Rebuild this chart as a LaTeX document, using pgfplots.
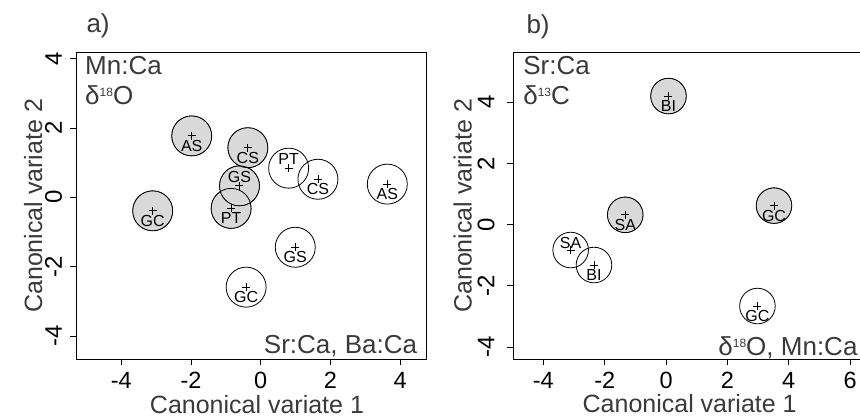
\documentclass[border=0pt]{standalone}
\usepackage{fontspec}
\setmainfont{Liberation Sans}
\usepackage{pgfplots}
\pgfplotsset{compat=1.18}
\usepackage{pgfplotstable}
\definecolor{fillg}{HTML}{D9D9D9}
\definecolor{txt}{HTML}{3A3A3A}
\newcommand{\tx}{\fontsize{23.5}{23.5}\selectfont}
\newcommand{\ty}{\fontsize{24}{24}\selectfont}
\newcommand{\supr}[1]{{\fontsize{12}{12}\selectfont\raisebox{8.5pt}{#1}}}

% panel a
\pgfplotstableread{
x y lab
-1.98 1.77 AS
-0.37 1.43 CS
-0.85 -0.32 PT
-3.10 -0.39 GC
}\aFB
\pgfplotstableread{
x y lab
-0.61 0.33 GS
}\aFA
\pgfplotstableread{
x y lab
1.64 0.52 CS
3.63 0.38 AS
0.99 -1.44 GS
-0.42 -2.59 GC
}\aOB
\pgfplotstableread{
x y lab
0.80 0.84 PT
}\aOA
% panel b
\pgfplotstableread{
x y lab
0.08 4.20 BI
-1.33 0.32 SA
3.52 0.62 GC
}\bFB
\pgfplotstableread{
x y lab
-2.35 -1.32 BI
2.98 -2.66 GC
}\bOB
\pgfplotstableread{
x y lab
-3.11 -0.83 SA
}\bOA

\pgfplotsset{
  canon/.style={
    scale only axis, clip=false,
    axis line style={black, line width=0.8pt},
    tick style={black, line width=0.8pt},
    tick align=outside, major tick length=6pt,
    xtick pos=bottom, ytick pos=left,
    tick label style={font=\fontsize{23.5}{23.5}\selectfont},
    xticklabel style={anchor=base, inner sep=0pt},
    yticklabel style={rotate=90, anchor=base, inner sep=0pt},
    label style={font=\fontsize{25}{25}\selectfont, text=txt, inner sep=0pt},
    xlabel={Canonical variate 1}, ylabel={Canonical variate 2},
    ytick={-4,-2,0,2,4}, yticklabels={\ty -4,\ty -2,\ty 0,\ty 2,\ty 4},
  },
  fillc/.style={only marks, mark=*, mark size=#1, mark options={draw=none, fill=fillg}},
  openc/.style={only marks, mark=o, mark size=#1, mark options={draw=black, line width=0.8pt}},
  plusm/.style={only marks, mark=+, mark size=4pt, mark options={draw=black, line width=0.8pt}},
  lab/.style={only marks, mark=none, nodes near coords, point meta=explicit symbolic,
    every node near coord/.style={anchor=center, yshift=#1, inner sep=0pt, font=\fontsize{16}{16}\selectfont, text=black}},
}

\begin{document}
\begin{tikzpicture}
\begin{axis}[canon,
  at={(76pt,58.7pt)}, anchor=south west, width=350pt, height=307pt,
  xmin=-5.30, xmax=4.74, ymin=-4.67, ymax=4.18,
  xtick={-4,-2,0,2,4}, xticklabels={\tx -4,\tx -2,\tx 0,\tx 2,\tx 4},
  xticklabel style={yshift=-23pt},
  yticklabel style={yshift=8pt},
  xlabel style={at={(axis description cs:0.5,-0.176)}, anchor=base, xshift=6pt},
  ylabel style={at={(axis description cs:-0.097,0.5)}, anchor=base},
]
\addplot[fillc=20pt] table[x=x,y=y] {\aFB};
\addplot[fillc=20pt] table[x=x,y=y] {\aFA};
\addplot[openc=20pt] table[x=x,y=y] {\aFB};
\addplot[openc=20pt] table[x=x,y=y] {\aFA};
\addplot[openc=20pt] table[x=x,y=y] {\aOB};
\addplot[openc=20pt] table[x=x,y=y] {\aOA};
\addplot[plusm] table[x=x,y=y] {\aFB};
\addplot[plusm] table[x=x,y=y] {\aFA};
\addplot[plusm] table[x=x,y=y] {\aOB};
\addplot[plusm] table[x=x,y=y] {\aOA};
\addplot[lab=-10pt] table[x=x,y=y,meta=lab] {\aFB};
\addplot[lab=-10pt] table[x=x,y=y,meta=lab] {\aOB};
\addplot[lab=9pt] table[x=x,y=y,meta=lab] {\aFA};
\addplot[lab=9pt] table[x=x,y=y,meta=lab] {\aOA};
\node[anchor=base west, xshift=5.7pt, yshift=-22.7pt, text=txt, font=\fontsize{26}{26}\selectfont] at (rel axis cs:0,1) {Mn:Ca};
\node[anchor=base west, xshift=5.7pt, yshift=-52.7pt, text=txt, font=\fontsize{26}{26}\selectfont] at (rel axis cs:0,1) {δ\supr{18}O};
\node[anchor=base east, xshift=-5.3pt, yshift=6pt, text=txt, font=\fontsize{26}{26}\selectfont] at (rel axis cs:1,0) {Sr:Ca, Ba:Ca};
\node[anchor=base west, xshift=7pt, yshift=19.3pt, text=txt, font=\fontsize{26}{26}\selectfont] at (rel axis cs:0,1) {a)};
\end{axis}

\begin{axis}[canon,
  at={(513.3pt,58.7pt)}, anchor=south west, width=352.7pt, height=307pt,
  xmin=-4.98, xmax=6.52, ymin=-4.40, ymax=5.63,
  xtick={-4,-2,0,2,4,6}, xticklabels={\tx -4,\tx -2,\tx 0,\tx 2,\tx 4,\tx 6},
  xticklabel style={yshift=-23.5pt},
  yticklabel style={yshift=13pt},
  xlabel style={at={(axis description cs:0.5,-0.172)}, anchor=base},
  ylabel style={at={(axis description cs:-0.118,0.5)}, anchor=base},
]
\addplot[fillc=17.8pt] table[x=x,y=y] {\bFB};
\addplot[openc=17.8pt] table[x=x,y=y] {\bFB};
\addplot[openc=17.8pt] table[x=x,y=y] {\bOB};
\addplot[openc=17.8pt] table[x=x,y=y] {\bOA};
\addplot[plusm] table[x=x,y=y] {\bFB};
\addplot[plusm] table[x=x,y=y] {\bOB};
\addplot[plusm] table[x=x,y=y] {\bOA};
\addplot[lab=-10pt] table[x=x,y=y,meta=lab] {\bFB};
\addplot[lab=-10pt] table[x=x,y=y,meta=lab] {\bOB};
\addplot[lab=7pt] table[x=x,y=y,meta=lab] {\bOA};
\node[anchor=base west, xshift=6.5pt, yshift=-22.3pt, text=txt, font=\fontsize{26}{26}\selectfont] at (rel axis cs:0,1) {Sr:Ca};
\node[anchor=base west, xshift=6.5pt, yshift=-52.3pt, text=txt, font=\fontsize{26}{26}\selectfont] at (rel axis cs:0,1) {δ\supr{13}C};
\node[anchor=base east, xshift=-5pt, yshift=3.3pt, text=txt, font=\fontsize{26}{26}\selectfont] at (rel axis cs:1,0) {δ\supr{18}O, Mn:Ca};
\node[anchor=base west, xshift=9.7pt, yshift=19.3pt, text=txt, font=\fontsize{26}{26}\selectfont] at (rel axis cs:0,1) {b)};
\end{axis}
\pgfresetboundingbox
\path[use as bounding box] (0pt,0pt) rectangle (860pt,418pt);
\end{tikzpicture}
\end{document}
